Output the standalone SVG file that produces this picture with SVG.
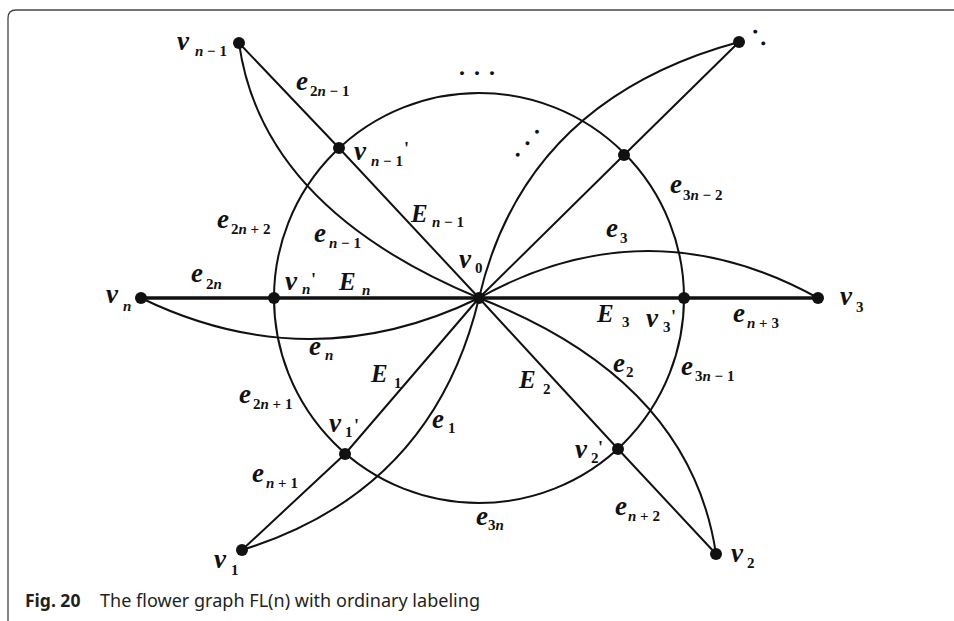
<svg xmlns="http://www.w3.org/2000/svg" width="954" height="621" viewBox="0 0 954 621">
<style>
.ln{fill:none;stroke:#111;stroke-width:2}
.thick{fill:none;stroke:#111;stroke-width:3.4}
.nd{fill:#111}
.lab{font-family:"Liberation Serif","Times New Roman",serif;font-weight:bold;font-style:italic;font-size:27px;fill:#111}
.cap-E{font-size:25px}
.sub{font-style:normal;font-size:15px}
.it{font-style:italic}
.pr{font-style:normal;font-size:18px}
.dots{font-family:"Liberation Serif",serif;font-weight:bold;font-size:24px;fill:#111}
.cap{font-family:"Noto Sans","Open Sans",sans-serif;font-size:17.5px;fill:#231f20}
</style>
<rect width="954" height="621" fill="#fff"/>
<path d="M8,621 V18 Q8,10 16,10 H954" fill="none" stroke="#444" stroke-width="1.3"/>
<g id="connectors">
<circle class="ln" cx="479" cy="298" r="205"/>
<line class="thick" x1="141" y1="298" x2="818" y2="298"/>
<path class="ln" d="M239,43 Q262,208 479,298"/>
<path class="ln" d="M739,42 Q525,100 479,298"/>
<path class="ln" d="M479,298 Q648,204 818,298"/>
<path class="ln" d="M479,298 Q690,380 716,554"/>
<path class="ln" d="M242,550 Q433,491 479,298"/>
<path class="ln" d="M141,298 Q310,380 479,298"/>
<polyline class="ln" points="239,43 339,148 479,298"/>
<polyline class="ln" points="739,42 624,155 479,298"/>
<polyline class="ln" points="716,554 618,449 479,298"/>
<polyline class="ln" points="242,550 345,454 479,298"/>
</g>
<g id="v0"><circle class="nd" cx="479" cy="298" r="6"/><text class="lab" x="459" y="268">v<tspan class="sub" x="475" y="273">0</tspan></text></g>
<g id="vn1"><circle class="nd" cx="239" cy="43" r="6"/><text class="lab" x="177" y="50">v<tspan class="sub" x="195" y="56"><tspan class="it">n</tspan> − 1</tspan></text></g>
<g id="vn1p"><circle class="nd" cx="339" cy="148" r="6"/><text class="lab" x="354" y="160">v<tspan class="sub" x="371" y="166"><tspan class="it">n</tspan> − 1</tspan><tspan class="pr" x="404" y="155">'</tspan></text></g>
<g id="vn"><circle class="nd" cx="141" cy="298" r="6"/><text class="lab" x="106" y="303">v<tspan class="sub it" x="123" y="311">n</tspan></text></g>
<g id="vnp"><circle class="nd" cx="274" cy="298" r="6"/><text class="lab" x="285" y="290">v<tspan class="sub it" x="302" y="294">n</tspan><tspan class="pr" x="311" y="286">'</tspan></text></g>
<g id="vtop"><circle class="nd" cx="739" cy="42" r="6"/><text class="dots" transform="translate(756,31) rotate(56)" x="-3" y="2.5" letter-spacing="8.4">..</text></g>
<g id="vtopp"><circle class="nd" cx="624" cy="155" r="6"/></g>
<g id="v3"><circle class="nd" cx="818" cy="298" r="6"/><text class="lab" x="840" y="305">v<tspan class="sub" x="856" y="312">3</tspan></text></g>
<g id="v3p"><circle class="nd" cx="684" cy="298" r="6"/><text class="lab" x="646" y="327">v<tspan class="sub" x="663" y="332">3</tspan><tspan class="pr" x="671" y="323">'</tspan></text></g>
<g id="v2"><circle class="nd" cx="716" cy="554" r="6"/><text class="lab" x="731" y="562">v<tspan class="sub" x="747" y="568">2</tspan></text></g>
<g id="v2p"><circle class="nd" cx="618" cy="449" r="6"/><text class="lab" x="575" y="458">v<tspan class="sub" x="591" y="463">2</tspan><tspan class="pr" x="598" y="454">'</tspan></text></g>
<g id="v1"><circle class="nd" cx="242" cy="550" r="6"/><text class="lab" x="214" y="568">v<tspan class="sub" x="231" y="575">1</tspan></text></g>
<g id="v1p"><circle class="nd" cx="345" cy="454" r="6"/><text class="lab" x="329" y="432">v<tspan class="sub" x="345" y="437">1</tspan><tspan class="pr" x="354" y="432">'</tspan></text></g>
<g id="edge-labels">
<text class="lab" x="296" y="90">e<tspan class="sub" x="310" y="96">2<tspan class="it">n</tspan> − 1</tspan></text>
<text class="lab cap-E" x="411" y="222">E<tspan class="sub" x="432" y="227"><tspan class="it">n</tspan> − 1</tspan></text>
<text class="lab" x="217" y="228">e<tspan class="sub" x="231" y="234">2<tspan class="it">n</tspan> + 2</tspan></text>
<text class="lab" x="314" y="242">e<tspan class="sub" x="329" y="248"><tspan class="it">n</tspan> − 1</tspan></text>
<text class="lab" x="191" y="282">e<tspan class="sub" x="206" y="289">2<tspan class="it">n</tspan></tspan></text>
<text class="lab cap-E" x="339" y="290">E<tspan class="sub it" x="362" y="295">n</tspan></text>
<text class="lab" x="309" y="355">e<tspan class="sub it" x="325" y="360">n</tspan></text>
<text class="lab cap-E" x="371" y="382">E<tspan class="sub" x="394" y="388">1</tspan></text>
<text class="lab" x="239" y="403">e<tspan class="sub" x="253" y="409">2<tspan class="it">n</tspan> + 1</tspan></text>
<text class="lab" x="432" y="428">e<tspan class="sub" x="448" y="433">1</tspan></text>
<text class="lab" x="252" y="482">e<tspan class="sub" x="266" y="488"><tspan class="it">n</tspan> + 1</tspan></text>
<text class="lab" x="670" y="193">e<tspan class="sub" x="683" y="200">3<tspan class="it">n</tspan> − 2</tspan></text>
<text class="lab" x="606" y="237">e<tspan class="sub" x="620" y="243">3</tspan></text>
<text class="lab cap-E" x="597" y="322">E<tspan class="sub" x="622" y="327">3</tspan></text>
<text class="lab" x="733" y="322">e<tspan class="sub" x="747" y="328"><tspan class="it">n</tspan> + 3</tspan></text>
<text class="lab" x="613" y="372">e<tspan class="sub" x="626" y="377">2</tspan></text>
<text class="lab" x="681" y="375">e<tspan class="sub" x="695" y="381">3<tspan class="it">n</tspan> − 1</tspan></text>
<text class="lab cap-E" x="519" y="388">E<tspan class="sub" x="543" y="394">2</tspan></text>
<text class="lab" x="615" y="515">e<tspan class="sub" x="628" y="521"><tspan class="it">n</tspan> + 2</tspan></text>
<text class="lab" x="476" y="525">e<tspan class="sub" x="488" y="530">3<tspan class="it">n</tspan></tspan></text>
<text class="dots" x="459" y="74.5" letter-spacing="9">...</text>
<text class="dots" transform="translate(517,154) rotate(-50)" x="-3" y="2.5" letter-spacing="9">...</text>
</g>
<g id="caption">
<text class="cap" x="25" y="607"><tspan font-weight="bold">Fig. 20</tspan><tspan x="100" textLength="380" lengthAdjust="spacingAndGlyphs">The flower graph FL(n) with ordinary labeling</tspan></text>
</g>
</svg>
